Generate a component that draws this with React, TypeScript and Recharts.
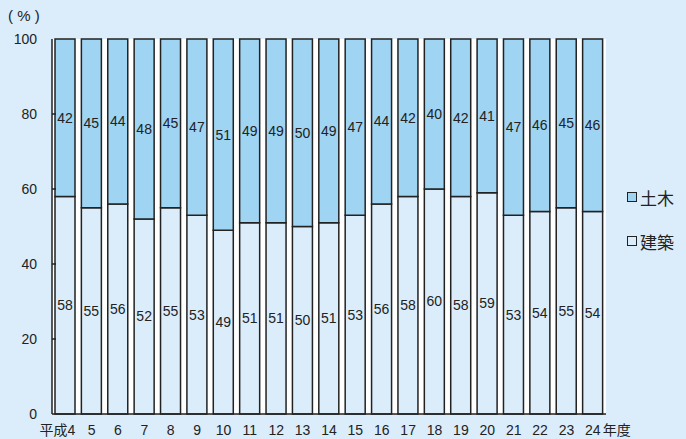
import { BarChart, Bar, XAxis, YAxis, CartesianGrid, LabelList } from 'recharts';

// 年度 (平成), shares in %
const years = ['4', '5', '6', '7', '8', '9', '10', '11', '12', '13', '14', '15', '16', '17', '18', '19', '20', '21', '22', '23', '24'];
const kenchiku = [58, 55, 56, 52, 55, 53, 49, 51, 51, 50, 51, 53, 56, 58, 60, 58, 59, 53, 54, 55, 54];
const doboku = [42, 45, 44, 48, 45, 47, 51, 49, 49, 50, 49, 47, 44, 42, 40, 42, 41, 47, 46, 45, 46];
const yTicks = [0, 20, 40, 60, 80, 100];

const data = years.map((y, i) => ({ year: y, kenchiku: kenchiku[i], doboku: doboku[i] }));

const FONT = '"Liberation Sans", "Noto Sans CJK JP", sans-serif';
const BG = '#dbedfb';
const DOBOKU = '#9fd4f3';
const KENCHIKU = '#dbedfb';
const AXIS_X = 52;

const legendItems = [
  { name: '土木', color: DOBOKU },
  { name: '建築', color: KENCHIKU },
];

const XTick = (props: any) => {
  const { x, y, payload, index } = props;
  if (index === 0) {
    return (
      <text x={x + 10} y={y + 13} textAnchor="end" fontSize={14} fill="#222" fontFamily={FONT}>
        平成{payload.value}
      </text>
    );
  }
  if (index === years.length - 1) {
    return (
      <g>
        <text x={x} y={y + 13} textAnchor="middle" fontSize={14} fill="#222" fontFamily={FONT}>
          {payload.value}
        </text>
        <text x={x + 10} y={y + 13} textAnchor="start" fontSize={14} fill="#222" fontFamily={FONT}>
          年度
        </text>
      </g>
    );
  }
  return (
    <text x={x} y={y + 13} textAnchor="middle" fontSize={14} fill="#222" fontFamily={FONT}>
      {payload.value}
    </text>
  );
};

const YTick = (props: any) => {
  const { y, payload } = props;
  return (
    <g>
      <text x={AXIS_X - 15} y={y + 5} textAnchor="end" fontSize={14} fill="#222" fontFamily={FONT}>
        {payload.value}
      </text>
      {payload.value !== 0 && payload.value !== 100 && (
        <line x1={AXIS_X} x2={AXIS_X + 4} y1={y} y2={y} stroke="#222" strokeWidth={1.5} />
      )}
    </g>
  );
};

export default function App() {
  return (
    <div style={{ position: 'fixed', left: 0, top: 0, width: 686, height: 439, background: BG }}>
      <div style={{ position: 'absolute', left: 8, top: 7, fontSize: 15, fontFamily: FONT, color: '#222', whiteSpace: 'pre' }}>
        ( % )
      </div>
      <div style={{ position: 'absolute', left: 627, top: 185, fontFamily: FONT, fontSize: 17, color: '#222' }}>
        {legendItems.map((it) => (
          <div key={it.name} style={{ display: 'flex', alignItems: 'center', height: 24, marginBottom: 20 }}>
            <span
              style={{
                display: 'inline-block',
                width: 8,
                height: 8,
                background: it.color,
                border: '1.5px solid #222',
                marginRight: 3,
              }}
            />
            {it.name}
          </div>
        ))}
      </div>
      <BarChart
        width={686}
        height={439}
        data={data}
        margin={{ top: 39, right: 80, left: 0, bottom: 0 }}
        barSize={20}
      >
        <CartesianGrid horizontal={false} vertical={false} fill="#ffffff" />
        <XAxis
          dataKey="year"
          axisLine={{ stroke: '#222', strokeWidth: 1.5 }}
          tickLine={false}
          tick={<XTick />}
          interval={0}
          height={25}
        />
        <XAxis xAxisId="top" orientation="top" dataKey="year" tick={false} tickLine={false} height={0} axisLine={{ stroke: '#222', strokeWidth: 1.5 }} />
        <YAxis
          domain={[0, 100]}
          ticks={yTicks}
          axisLine={{ stroke: '#222', strokeWidth: 1.5 }}
          tickLine={false}
          tick={<YTick />}
          width={AXIS_X}
        />
        <YAxis yAxisId="right" orientation="right" domain={[0, 100]} tick={false} tickLine={false} width={0} axisLine={{ stroke: '#222', strokeWidth: 1.5 }} />
        <Bar dataKey="kenchiku" name="建築" stackId="a" fill={KENCHIKU} stroke="#222" strokeWidth={1.5} isAnimationActive={false}>
          <LabelList dataKey="kenchiku" position="center" fontSize={14} fill="#222" fontFamily={FONT} />
        </Bar>
        <Bar dataKey="doboku" name="土木" stackId="a" fill={DOBOKU} stroke="#222" strokeWidth={1.5} isAnimationActive={false}>
          <LabelList dataKey="doboku" position="center" fontSize={14} fill="#222" fontFamily={FONT} />
        </Bar>
      </BarChart>
    </div>
  );
}
